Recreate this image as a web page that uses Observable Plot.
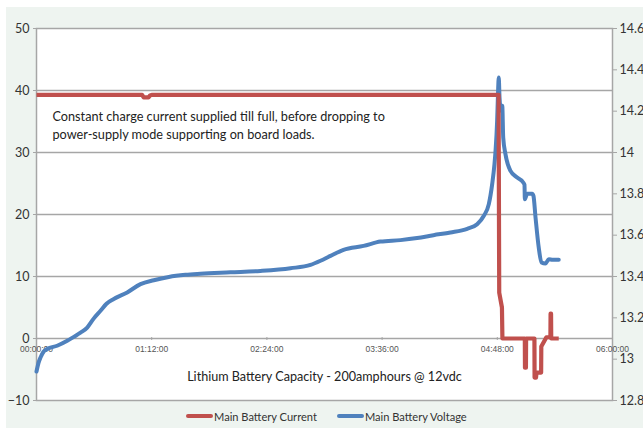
<!DOCTYPE html>
<html>
<head>
<meta charset="utf-8">
<script src="https://cdn.jsdelivr.net/npm/d3@7"></script>
<script src="https://cdn.jsdelivr.net/npm/@observablehq/plot@0.6"></script>
<style>
  html, body { margin: 0; padding: 0; background: #ffffff; }
  #wrap { position: absolute; left: 6px; top: 7px; width: 637px; height: 421px; background: #eef4f0; overflow: hidden; }
  #chart { position: absolute; left: 0; top: 0; }
  #legend { position: absolute; left: 180px; top: 401px; height: 16px; display: flex; align-items: center;
            font-family: Lato, "Open Sans", sans-serif; font-size: 11.1px; color: #333; white-space: nowrap; }
  .sw { display: inline-block; width: 27px; height: 4px; border-radius: 2px; margin-right: 1px; }
  .item { display: flex; align-items: center; margin-right: 20px; }
</style>
</head>
<body>
<div id="wrap">
  <div id="chart"></div>
  <div id="legend"></div>
</div>
<script>
// ---- data (time in minutes from start) ----
const seriesNames = ["Main Battery Current", "Main Battery Voltage"];
const seriesColors = ["#c0504d", "#4f81bd"];

// Main Battery Current (A) - left axis
const currentT = [0, 66, 67, 70, 71, 72, 288.8, 289.2, 290.9, 291.2, 305.2, 305.3, 305.9, 306.0, 311.2, 311.3, 312.2, 312.5, 315.4, 315.5, 318.7, 321.2, 321.3, 321.6, 321.7, 326.4];
const currentA = [39.3, 39.3, 38.9, 38.9, 39.2, 39.3, 39.3, 7.4, 5.0, 0, 0, -4.7, -4.7, 0, 0, -6.3, -6.3, -5.5, -5.5, -1.3, 0.2, 0.2, 4.0, 4.0, 0, 0];

// Main Battery Voltage (V) - right axis
const voltageT = [0, 1.25, 2.5, 4.4, 6.7, 12.9, 19.2, 23.3, 27.5, 31.7, 35.6, 40, 43.75, 48.3, 56.7, 65, 73.3, 82.7, 93.1, 102.5, 121.25, 140, 158.75, 171.25, 177.5, 183.75, 191.9, 204.4, 215, 227.5, 237.9, 248.1, 258.75, 269.2, 275.4, 279.6, 282.7, 284.8, 286.25, 286.9, 287.9, 288.4, 288.9, 289.4, 290.3, 291.1, 291.7, 293.1, 296.25, 300.4, 304.2, 305.0, 305.2, 306.7, 309.8, 310.6, 311.9, 313.9, 315.6, 318.1, 320.2, 322.5, 326.4];
const voltageV = [12.94, 12.982, 13.008, 13.036, 13.049, 13.065, 13.089, 13.108, 13.128, 13.153, 13.195, 13.234, 13.268, 13.291, 13.323, 13.363, 13.382, 13.398, 13.408, 13.413, 13.420, 13.427, 13.440, 13.456, 13.476, 13.500, 13.529, 13.548, 13.569, 13.576, 13.586, 13.600, 13.613, 13.631, 13.653, 13.694, 13.750, 13.847, 13.945, 14.008, 14.153, 14.274, 14.363, 14.266, 14.202, 14.226, 14.072, 13.992, 13.911, 13.879, 13.855, 13.844, 13.774, 13.801, 13.801, 13.79, 13.685, 13.540, 13.468, 13.463, 13.484, 13.481, 13.481];

// axes
const leftTicks = [-10, 0, 10, 20, 30, 40, 50];
const rightTicks = [12.8, 13, 13.2, 13.4, 13.6, 13.8, 14, 14.2, 14.4, 14.6];
const xTickMinutes = [0, 72, 144, 216, 288, 360];
const vMin = 12.8, vMax = 14.6, yMin = -10, yMax = 50;

// texts
const noteLines = ["Constant charge current supplied till full, before dropping to", "power-supply mode supporting on board loads."];
const noteT = [10, 10];
const noteY = [35.8, 32.9];
const titleText = "Lithium Battery Capacity - 200amphours @ 12vdc";
const titleT = 180, titleY = -6.2;

// ---- build ----
const toDate = m => new Date(m * 60000);
const vToY = v => (v - vMin) / (vMax - vMin) * (yMax - yMin) + yMin;
const yToV = y => vMin + (y - yMin) / (yMax - yMin) * (vMax - vMin);
const fmt = d3.utcFormat("%H:%M:%S");

const current = currentT.map((t, i) => ({t: toDate(t), y: currentA[i]}));
const voltage = voltageT.map((t, i) => ({t: toDate(t), y: vToY(voltageV[i])}));
const notes = noteLines.map((s, i) => ({t: toDate(noteT[i]), y: noteY[i], text: s}));
const xTicks = xTickMinutes.map(toDate);

const grid = "#a6a6a6";
const chart = Plot.plot({
  width: 637, height: 398,
  marginLeft: 30, marginRight: 31, marginTop: 21, marginBottom: 5,
  style: {background: "transparent", fontFamily: "Lato, 'Open Sans', sans-serif", overflow: "visible"},
  x: {type: "utc", domain: [toDate(0), toDate(360)], axis: null},
  y: {domain: [yMin, yMax], axis: null},
  marks: [
    Plot.frame({fill: "white", stroke: "none"}),
    Plot.ruleY(leftTicks.filter(v => v > yMin && v < yMax), {stroke: grid, strokeWidth: 1.5}),
    Plot.frame({stroke: grid, strokeWidth: 1.5}),
    Plot.axisY(leftTicks, {anchor: "left", label: null, tickSize: 3, tickPadding: 4, stroke: grid, fill: "#333", fontSize: 12.5}),
    Plot.axisY(rightTicks.map(vToY), {anchor: "right", label: null, tickSize: 4, tickPadding: 3, stroke: grid, fill: "#333", fontSize: 12.5,
      tickFormat: y => String(+yToV(y).toFixed(1))}),
    Plot.ruleX(xTicks, {x: d => d, y1: 0, y2: 0, insetTop: -1, insetBottom: -2, stroke: grid}),
    Plot.text(xTicks, {x: d => d, y: 0, dy: 11, text: d => fmt(d), fontSize: 8.5, fill: "#555",
      fontFamily: "'Liberation Sans', Arial, sans-serif"}),
    Plot.text(notes, {x: "t", y: "y", text: "text", textAnchor: "start", fontSize: 12.7, fill: "#222"}),
    Plot.text([titleText], {x: toDate(titleT), y: titleY, text: d => d, fontSize: 12.6, fill: "#222"}),
    Plot.line(voltage, {x: "t", y: "y", curve: "monotone-x", stroke: seriesColors[1], strokeWidth: 4, strokeLinejoin: "round", strokeLinecap: "round"}),
    Plot.line(current, {x: "t", y: "y", stroke: seriesColors[0], strokeWidth: 4.2, strokeLinejoin: "round", strokeLinecap: "butt"})
  ]
});
document.getElementById("chart").appendChild(chart);

const legend = document.getElementById("legend");
seriesNames.forEach((name, i) => {
  const item = document.createElement("div");
  item.className = "item";
  const sw = document.createElement("span");
  sw.className = "sw";
  sw.style.background = seriesColors[i];
  item.appendChild(sw);
  item.appendChild(document.createTextNode(name));
  legend.appendChild(item);
});
</script>
</body>
</html>
